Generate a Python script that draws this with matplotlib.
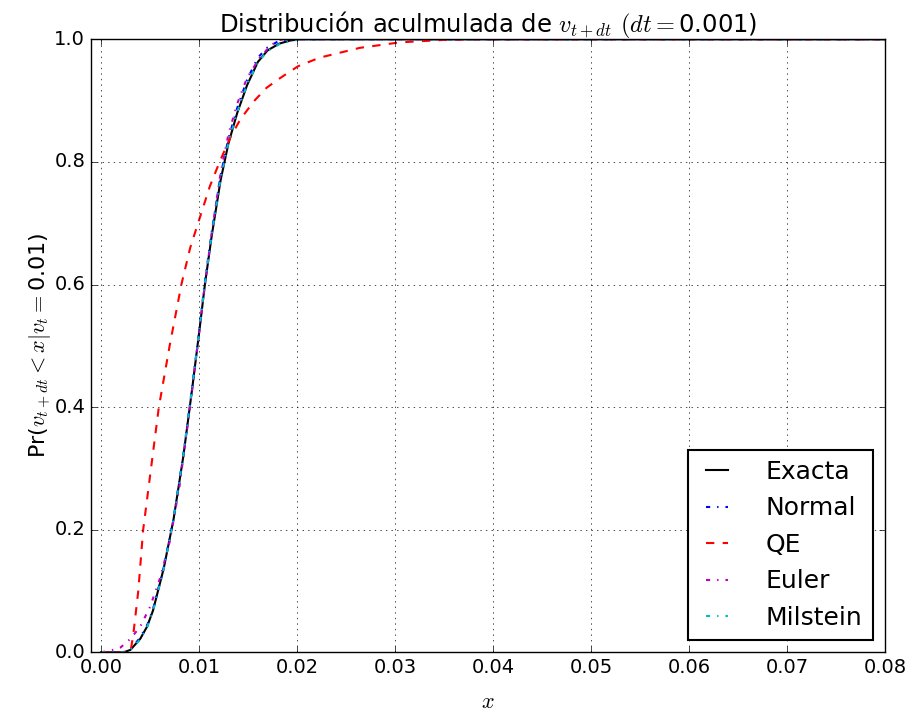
import matplotlib
matplotlib.use("Agg")
import matplotlib.pyplot as plt

plt.style.use("classic")

# Exact CDF
x_exacta = [0.0, 0.0023, 0.0030, 0.0040, 0.0047, 0.0053, 0.0064, 0.0074, 0.0084, 0.0093,
            0.0100, 0.0106, 0.0113, 0.0122, 0.0130, 0.0139, 0.0149, 0.0160, 0.0170, 0.0182,
            0.0193, 0.0203, 0.0300, 0.0800]
f_exacta = [0.0, 0.0, 0.004, 0.022, 0.042, 0.068, 0.137, 0.217, 0.320, 0.430,
            0.520, 0.600, 0.680, 0.770, 0.830, 0.880, 0.925, 0.963, 0.982, 0.993,
            0.998, 1.0, 1.0, 1.0]

# Normal approximation
x_normal = [0.0, 0.0022, 0.0030, 0.0040, 0.0047, 0.0053, 0.0064, 0.0074, 0.0084, 0.0093,
            0.0100, 0.0106, 0.0113, 0.0122, 0.0130, 0.0139, 0.0149, 0.0160, 0.0170, 0.0180,
            0.0190, 0.0197, 0.0300, 0.0800]
f_normal = [0.0, 0.0, 0.005, 0.024, 0.044, 0.070, 0.138, 0.218, 0.322, 0.432,
            0.523, 0.605, 0.686, 0.778, 0.838, 0.888, 0.934, 0.970, 0.987, 0.996,
            0.999, 1.0, 1.0, 1.0]

# QE scheme
x_qe = [0.0, 0.0030, 0.0033, 0.0038, 0.0043, 0.0051, 0.0059, 0.0070, 0.0082, 0.0091,
        0.0101, 0.0111, 0.0121, 0.0132, 0.0142, 0.0156, 0.0169, 0.0183, 0.0201, 0.0223,
        0.0264, 0.0305, 0.0350, 0.0385, 0.0800]
f_qe = [0.0, 0.0, 0.030, 0.100, 0.200, 0.300, 0.400, 0.500, 0.600, 0.660,
        0.710, 0.760, 0.800, 0.840, 0.869, 0.899, 0.921, 0.937, 0.956, 0.970,
        0.986, 0.995, 0.999, 1.0, 1.0]

# Euler scheme
x_euler = [0.0, 0.0010, 0.0020, 0.0030, 0.0040, 0.0050, 0.0060, 0.0070, 0.0080, 0.0090,
           0.0100, 0.0106, 0.0113, 0.0122, 0.0130, 0.0139, 0.0149, 0.0162, 0.0172, 0.0180,
           0.0186, 0.0800]
f_euler = [0.0, 0.003, 0.008, 0.022, 0.042, 0.074, 0.120, 0.180, 0.270, 0.390,
           0.520, 0.600, 0.685, 0.782, 0.845, 0.895, 0.937, 0.970, 0.988, 0.998,
           1.0, 1.0]

# Milstein scheme
x_milstein = [0.0, 0.0023, 0.0030, 0.0040, 0.0047, 0.0053, 0.0064, 0.0074, 0.0084, 0.0093,
              0.0100, 0.0106, 0.0113, 0.0122, 0.0130, 0.0139, 0.0149, 0.0160, 0.0170, 0.0182,
              0.0195, 0.0208, 0.0300, 0.0800]
f_milstein = [0.0, 0.0, 0.004, 0.021, 0.041, 0.067, 0.136, 0.218, 0.322, 0.432,
              0.522, 0.602, 0.682, 0.772, 0.831, 0.881, 0.926, 0.962, 0.981, 0.992,
              0.998, 1.0, 1.0, 1.0]

fig = plt.figure(figsize=(9.11, 7.17), dpi=100, facecolor="white")
ax = fig.add_axes([0.0996, 0.0902, 0.8719, 0.8550])
ax.set_facecolor("white")

ax.plot(x_exacta, f_exacta, "k-", lw=1.5, label="Exacta")
ax.plot(x_normal, f_normal, "b-.", lw=1.5, label="Normal")
ax.plot(x_qe, f_qe, "r--", lw=1.5, label="QE")
ax.plot(x_euler, f_euler, "m-.", lw=1.5, label="Euler")
ax.plot(x_milstein, f_milstein, "c-.", lw=1.5, label="Milstein")

ax.set_xlim(-0.00105, 0.08)
ax.set_ylim(0.0, 1.0)
ax.set_xticks([0.0, 0.01, 0.02, 0.03, 0.04, 0.05, 0.06, 0.07, 0.08])
ax.set_yticks([0.0, 0.2, 0.4, 0.6, 0.8, 1.0])
ax.tick_params(labelsize=14)
ax.grid(True)

ax.set_title("Distribución aculmulada de $v_{t+dt}$ $(dt=$0.001)", fontsize=17.5)
ax.set_xlabel("$x$", fontsize=16, labelpad=11)
ax.set_ylabel("Pr($v_{t+dt}<x|v_t=$0.01)", fontsize=16, labelpad=1)

leg = ax.legend(loc="lower right", fontsize=18, labelspacing=0.5,
                handlelength=1.5, handletextpad=1.2)
leg.get_frame().set_linewidth(1.5)

fig.savefig("out.png", dpi=100, facecolor="white")
